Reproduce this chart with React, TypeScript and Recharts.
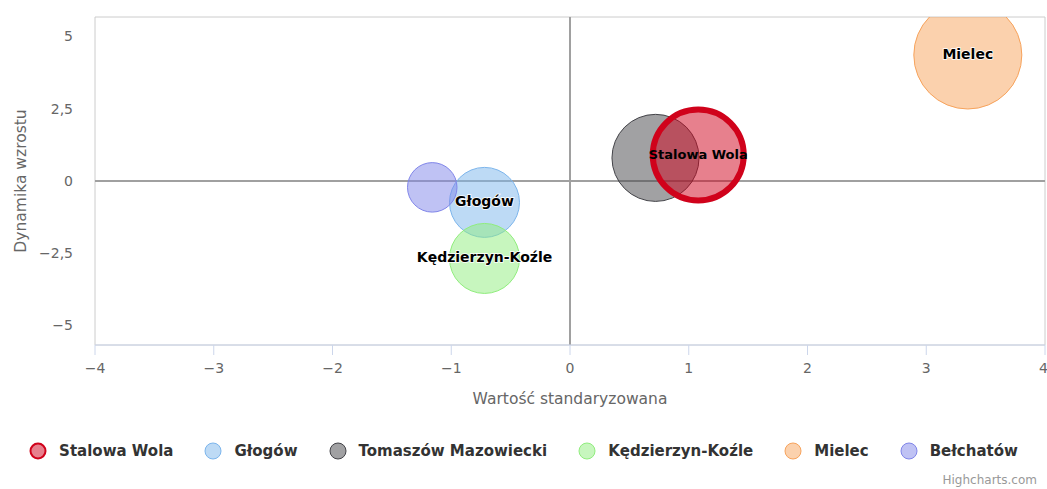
import {
  ReferenceArea,
  ReferenceLine,
  Scatter,
  ScatterChart,
  XAxis,
  YAxis,
  ZAxis,
} from "recharts";

const cityNames = [
  "Stalowa Wola",
  "Głogów",
  "Tomaszów Mazowiecki",
  "Kędzierzyn-Koźle",
  "Mielec",
  "Bełchatów",
];
const cityColors = ["#d0021b", "#7cb5ec", "#434348", "#90ed7d", "#f7a35c", "#8085e9"];
// wartość standaryzowana
const xValues = [1.08, -0.72, 0.72, -0.72, 3.35, -1.16];
// dynamika wzrostu
const yValues = [0.9, -0.74, 0.8, -2.68, 4.36, -0.22];
// bubble size
const sizeValues = [71, 42, 65, 42, 100, 21];
// which cities have a data label
const labelled = [true, true, false, true, true, false];
// Stalowa Wola is drawn on top of the rest
const drawOrder = [1, 2, 3, 4, 5, 0];

const xTicks = [-4, -3, -2, -1, 0, 1, 2, 3, 4];
const yTicks = [-5, -2.5, 0, 2.5, 5];

const W = 1047;
const H = 489;
const FONT = "'DejaVu Sans', sans-serif";

const points = cityNames.map((name, i) => ({
  name,
  color: cityColors[i],
  x: xValues[i],
  y: yValues[i],
  z: sizeValues[i],
  labelled: labelled[i],
  highlighted: i === 0,
}));

const fmt = (v: number) => String(v).replace(".", ",").replace("-", "\u2212");

function Bubble(props: any) {
  const { cx, cy, size, payload } = props;
  if (cx == null || cy == null) return null;
  const r = Math.sqrt((size ?? 0) / Math.PI);
  const hl = payload.highlighted;
  return (
    <g>
      <circle
        cx={cx}
        cy={cy}
        r={r}
        fill={payload.color}
        fillOpacity={0.5}
        stroke={payload.color}
        strokeWidth={hl ? 6 : 1}
      />
      {payload.labelled && (
        <text
          x={cx}
          y={cy - 1}
          dy="0.35em"
          textAnchor="middle"
          fontSize={hl ? 13 : 14}
          fontWeight="bold"
          fontFamily={FONT}
          fill="#000"
          stroke={hl ? "none" : "#fff"}
          strokeWidth={1.5}
          paintOrder="stroke"
        >
          {payload.name}
        </text>
      )}
    </g>
  );
}

export default function App() {
  return (
    <div
      style={{
        position: "absolute",
        left: 0,
        top: 0,
        width: W,
        height: H,
        background: "#fff",
        fontFamily: FONT,
      }}
    >
      <ScatterChart width={W} height={H} margin={{ top: 17, right: 2, left: 0, bottom: 84 }}>
        <XAxis
          type="number"
          dataKey="x"
          domain={[-4, 4]}
          ticks={xTicks}
          height={60}
          tickFormatter={fmt}
          tick={{ fill: "#666", fontSize: 14 }}
          tickSize={10}
          tickMargin={8}
          stroke="#ccd6eb"
          axisLine={{ stroke: "#ccd6eb" }}
          tickLine={{ stroke: "#ccd6eb" }}
          label={(p: any) => {
            const vb = p.viewBox;
            return (
              <text
                x={vb.x + vb.width / 2}
                y={404}
                textAnchor="middle"
                fontSize={15.5}
                fill="#666"
                fontFamily={FONT}
              >
                Wartość standaryzowana
              </text>
            );
          }}
        />
        <YAxis
          type="number"
          dataKey="y"
          domain={[-5.675, 5.675]}
          ticks={yTicks}
          allowDataOverflow
          width={95}
          tickFormatter={fmt}
          tick={{ fill: "#666", fontSize: 14 }}
          tickSize={6}
          tickMargin={16}
          axisLine={false}
          tickLine={false}
          label={(p: any) => {
            const vb = p.viewBox;
            const cy = vb.y + vb.height / 2;
            return (
              <text
                x={26}
                y={cy}
                textAnchor="middle"
                fontSize={15.5}
                fill="#666"
                fontFamily={FONT}
                transform={`rotate(-90, 26, ${cy})`}
              >
                Dynamika wzrostu
              </text>
            );
          }}
        />
        <ZAxis type="number" dataKey="z" domain={[0, 100]} range={[0, Math.PI * 54 * 54]} />
        <ReferenceArea
          x1={-4}
          x2={4}
          y1={-5.675}
          y2={5.675}
          fill="none"
          stroke="#cccccc"
          strokeWidth={1}
          ifOverflow="visible"
        />
        <ReferenceLine x={0} stroke="#a0a0a0" strokeWidth={2} />
        <ReferenceLine y={0} stroke="#a0a0a0" strokeWidth={2} />
        {drawOrder.map((i) => (
          <Scatter
            key={cityNames[i]}
            name={cityNames[i]}
            data={[points[i]]}
            fill={cityColors[i]}
            shape={<Bubble />}
            isAnimationActive={false}
          />
        ))}
      </ScatterChart>

      <div
        style={{
          position: "absolute",
          left: 0,
          top: 440,
          width: W,
          display: "flex",
          justifyContent: "center",
          alignItems: "center",
          gap: 31,
          fontSize: 15,
          fontWeight: "bold",
          color: "#333",
        }}
      >
        {points.map((p) => (
          <div key={p.name} style={{ display: "flex", alignItems: "center", gap: 12, height: 22 }}>
            <svg width={18} height={18}>
              <circle
                cx={9}
                cy={9}
                r={p.highlighted ? 7.5 : 8}
                fill={p.color}
                fillOpacity={0.5}
                stroke={p.color}
                strokeWidth={p.highlighted ? 2 : 1}
              />
            </svg>
            <span>{p.name}</span>
          </div>
        ))}
      </div>

      <div
        style={{
          position: "absolute",
          right: 10,
          top: 473,
          fontSize: 12,
          color: "#999",
        }}
      >
        Highcharts.com
      </div>
    </div>
  );
}
